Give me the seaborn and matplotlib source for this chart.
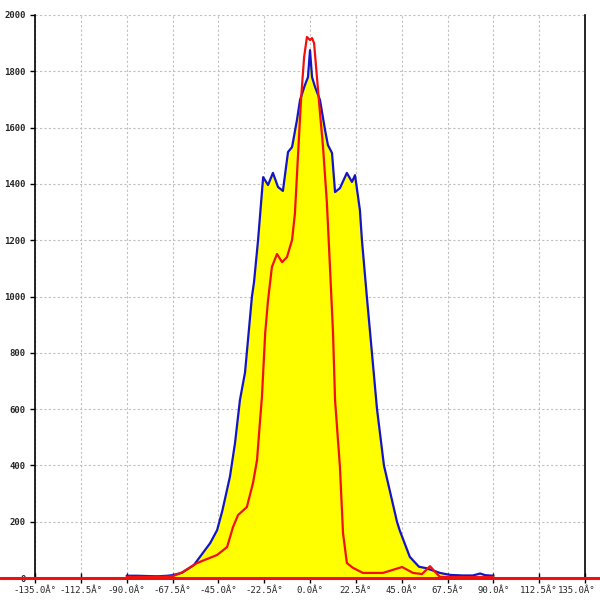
# histograma de angulos: total (amarillo/azul) y la otra serie en rojo
import matplotlib
matplotlib.use("Agg")
import matplotlib.pyplot as plt
import matplotlib.transforms as mtransforms
from matplotlib.lines import Line2D
import pandas as pd
import seaborn as sns

# datos
angulo_azul = [-90, -85, -80, -75, -70, -67.5, -64.8, -63, -57, -49, -45.6, -43,
               -39.3, -36.8, -34.4, -31.9, -28.5, -27.5, -25.5, -23, -20.6, -18.2,
               -15.7, -13.3, -10.8, -8.8, -6.4, -4.9, -2.5, -1, 0, 1, 2.5, 4.9, 7.4,
               8.8, 10.8, 12.3, 14.7, 18.1, 20.6, 22.1, 24.5, 25.5, 27.9, 30.4, 32.9,
               36.3, 42.7, 44, 49, 53.5, 57, 63.8, 68.7, 75, 80, 83.5, 86, 90]
cuenta_azul = [8, 8, 7, 6, 8, 10, 15, 18, 46, 124, 170, 240,
               360, 480, 632, 730, 1000, 1050, 1200, 1424, 1396, 1439,
               1389, 1375, 1513, 1531, 1627, 1698, 1751, 1779, 1875, 1779, 1744, 1698, 1591,
               1538, 1510, 1371, 1385, 1439, 1407, 1431, 1307, 1200, 1000, 800, 600,
               400, 200, 170, 75, 40, 35, 18, 11, 9, 9, 16, 10, 8]

angulo_rojo = [-90, -80, -70, -67.5, -62.8, -55.5, -45.6, -40.7, -37.8, -35.3, -31,
               -28, -26, -24.5, -23.6, -22, -20.6, -18.7, -16.2, -13.7, -11.3, -8.8,
               -7.4, -5.9, -4.4, -2.9, -1.5, 0, 1, 2, 3.4, 4.9, 6.4, 8.3, 9.8, 11.3,
               12.3, 14.7, 16.2, 18.1, 21.1, 26, 35.8, 45.2, 50.6, 55, 58.9, 62.3,
               63.8, 70, 80, 90]
cuenta_rojo = [4, 4, 5, 6, 20, 53, 82, 110, 181, 224, 252,
               337, 419, 561, 643, 870, 987, 1105, 1151, 1122, 1140, 1201,
               1295, 1500, 1700, 1850, 1922, 1911, 1918, 1900, 1780, 1652, 1531, 1332, 1105, 870,
               632, 394, 160, 53, 36, 18, 18, 39, 18, 14, 42, 15,
               4, 3, 3, 3]

ticks_x = [-135, -112.5, -90, -67.5, -45, -22.5, 0, 22.5, 45, 67.5, 90, 112.5, 135]
etiquetas_x = ["-135.0Â°", "-112.5Â°", "-90.0Â°", "-67.5Â°", "-45.0Â°", "-22.5Â°", "0.0Â°",
               "22.5Â°", "45.0Â°", "67.5Â°", "90.0Â°", "112.5Â°", "135.0Â°"]
ticks_y = [0, 200, 400, 600, 800, 1000, 1200, 1400, 1600, 1800, 2000]

df_azul = pd.DataFrame({"angulo": angulo_azul, "cuenta": cuenta_azul})
df_rojo = pd.DataFrame({"angulo": angulo_rojo, "cuenta": cuenta_rojo})

sns.set_style("white")
plt.rcParams["font.family"] = ["DejaVu Sans Mono", "DejaVu Sans"]

fig = plt.figure(figsize=(6, 6), dpi=100)
ax = fig.add_axes([35 / 600, 22 / 600, 550 / 600, 563 / 600])

# relleno amarillo debajo de la serie azul
ax.fill_between(df_azul["angulo"], 0, df_azul["cuenta"], color="#ffff00", lw=0, zorder=2)
sns.lineplot(data=df_azul, x="angulo", y="cuenta", color="#1414c8", lw=1.6,
             sort=False, ax=ax, zorder=3)
sns.lineplot(data=df_rojo, x="angulo", y="cuenta", color="#f01010", lw=1.6,
             sort=False, ax=ax, zorder=4)

ax.set_xlim(-135, 135)
ax.set_ylim(0, 2000)
ax.set_xticks(ticks_x)
# la ultima etiqueta se sale de la imagen, va aparte y un poco a la izquierda
ax.set_xticklabels(etiquetas_x[:-1] + [""], fontsize=6.5)
ax.annotate(etiquetas_x[-1], xy=(ticks_x[-1], 0), xycoords=("data", "axes fraction"),
            xytext=(-6, -5.75), textcoords="offset points", ha="center", va="top",
            fontsize=6.5)
ax.set_yticks(ticks_y)
ax.set_yticklabels([str(v) for v in ticks_y], fontsize=6.5, fontweight="bold")
ax.set_xlabel("")
ax.set_ylabel("")

# rejilla punteada gris
ax.grid(True, color="#c0c0c0", linestyle=(0, (2, 2)), lw=0.8, zorder=1)
ax.set_axisbelow(True)
ax.tick_params(axis="y", direction="out", length=3.6, width=1, color="black", pad=3)
ax.tick_params(axis="x", direction="inout", length=7.5, width=1, color="black", pad=2)
ax.tick_params(bottom=True, left=True)

ax.spines["top"].set_visible(False)
for lado in ["left", "right"]:
    ax.spines[lado].set_color("black")
    ax.spines[lado].set_linewidth(1.2)
ax.spines["bottom"].set_visible(False)

# la linea roja del cero cruza toda la imagen
trans = mtransforms.blended_transform_factory(fig.transFigure, ax.transData)
fig.add_artist(Line2D([0, 1], [0, 0], transform=trans, color="#f01010", lw=2.2, zorder=5))

fig.savefig("out.png", dpi=100)
